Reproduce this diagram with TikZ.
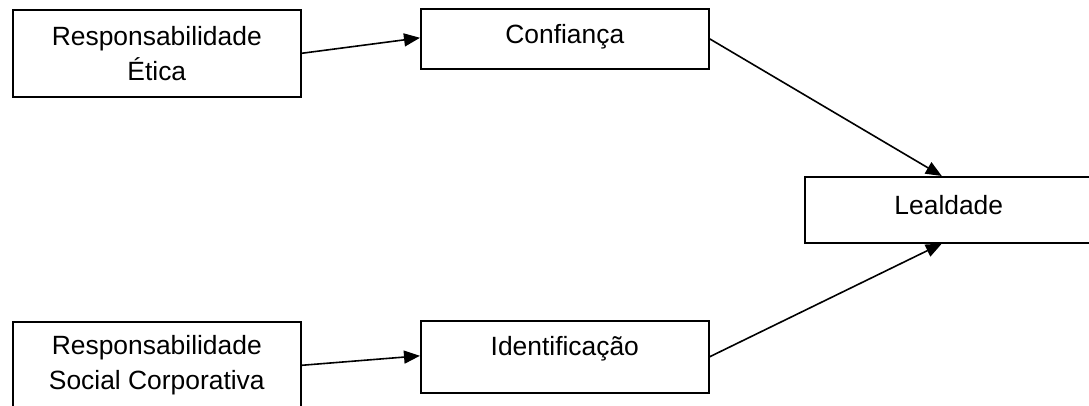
\documentclass[tikz,border=0pt]{standalone}
\usepackage{fontspec}
\setmainfont{Liberation Sans}
\usetikzlibrary{arrows.meta}
\begin{document}
\begin{tikzpicture}[x=1pt,y=-1pt,
  boxnode/.style={draw=black, line width=1.6pt, rectangle, inner sep=0pt, minimum width=288pt, anchor=north west, fill=white},
  lbl/.style={font=\fontsize{26.4}{35}\selectfont, align=center, inner sep=0pt},
  conn/.style={line width=1.6pt, -{Triangle[length=16pt,width=13pt]}}]
\useasboundingbox (0,0) rectangle (1089,405);
\node[boxnode, minimum height=87pt] (b1) at (12,9) {};
\node[boxnode, minimum height=60pt] (b2) at (420,8) {};
\node[boxnode, minimum height=66pt] (b3) at (804,176) {};
\node[boxnode, minimum height=87pt] (b4) at (12,321) {};
\node[boxnode, minimum height=72pt] (b5) at (420,320) {};
\node[lbl] (t1) at (b1.center) {Responsabilidade\\Ética};
\node[lbl] (t2) at ([yshift=2pt]b2.center) {Confiança};
\node[lbl] (t3) at ([yshift=5pt]b3.center) {Lealdade};
\node[lbl] (t4) at (b4.center) {Responsabilidade\\Social Corporativa};
\node[lbl] (t5) at ([yshift=8pt]b5.center) {Identificação};
\draw[conn] (b1.east) -- ([yshift=1pt]b2.west);
\draw[conn] (b2.east) -- ([xshift=-7pt]b3.north);
\draw[conn] (b4.east) -- ([yshift=1pt]b5.west);
\draw[conn] (b5.east) -- ([xshift=-7pt]b3.south);
\end{tikzpicture}
\end{document}
